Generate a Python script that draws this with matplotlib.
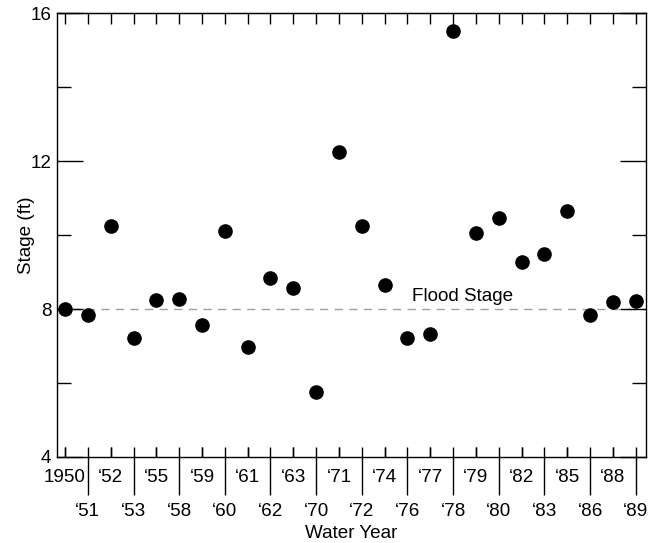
import matplotlib
matplotlib.use("Agg")
import matplotlib.pyplot as plt

plt.rcParams['font.family'] = ['Liberation Sans', 'DejaVu Sans']
plt.rcParams['font.size'] = 13.6

years = ['1950', '\u201851', '\u201852', '\u201853', '\u201855', '\u201858', '\u201859',
         '\u201860', '\u201861', '\u201862', '\u201863', '\u201870', '\u201871', '\u201872',
         '\u201874', '\u201876', '\u201877', '\u201878', '\u201879', '\u201880', '\u201882',
         '\u201883', '\u201885', '\u201886', '\u201888', '\u201889']
stage = [8.0, 7.84, 10.24, 7.22, 8.24, 8.27, 7.57, 10.1, 6.97, 8.84, 8.57, 5.76,
         12.24, 10.24, 8.65, 7.22, 7.32, 15.51, 10.05, 10.46, 9.27, 9.49, 10.65,
         7.84, 8.19, 8.22]
flood_stage = 8

x = list(range(len(years)))
even = x[0::2]
odd = x[1::2]

fig = plt.figure(figsize=(6.48, 5.43), dpi=100)
ax = fig.add_axes([0.088, 0.1584, 0.909, 0.8176])

ax.axhline(flood_stage, color='#a0a0a0', lw=1.0, dashes=(6, 4.5), zorder=1)
ax.text(15.2, flood_stage + 0.12, 'Flood Stage', ha='left', va='bottom')
ax.plot(x, stage, 'o', color='black', ms=9.5, zorder=3, clip_on=False)

ax.set_xlim(-0.35, 25.45)
ax.set_ylim(4, 16)

# two rows of year labels: even ones inside the long ticks, odd ones below them
ax.set_xticks(odd, [years[i] for i in odd])
ax.set_xticks(even, [years[i] for i in even], minor=True)
ax.tick_params(axis='x', which='major', direction='out', length=27, width=1.0, pad=6)
ax.tick_params(axis='x', which='minor', direction='in', length=7, width=1.0, pad=9)

bot = ax.secondary_xaxis('bottom')
bot.set_xticks(x)
bot.tick_params(direction='in', length=7, width=1.0, labelbottom=False)
bot.spines['bottom'].set_visible(False)

top = ax.secondary_xaxis('top')
top.set_xticks(x)
top.tick_params(direction='in', length=8, width=1.0, labeltop=False)

ax.set_yticks([4, 8, 12, 16])
ax.set_yticks([6, 10, 14], minor=True)
ax.tick_params(axis='y', which='major', direction='in', length=19, width=1.0, right=True, pad=4)
ax.tick_params(axis='y', which='minor', direction='in', length=10, width=1.0, right=True)

for s in ax.spines.values():
    s.set_linewidth(1.0)

ax.set_ylabel('Stage (ft)', labelpad=-3)
ax.set_xlabel('Water Year', labelpad=3.5)

fig.savefig('out.png', dpi=100)
